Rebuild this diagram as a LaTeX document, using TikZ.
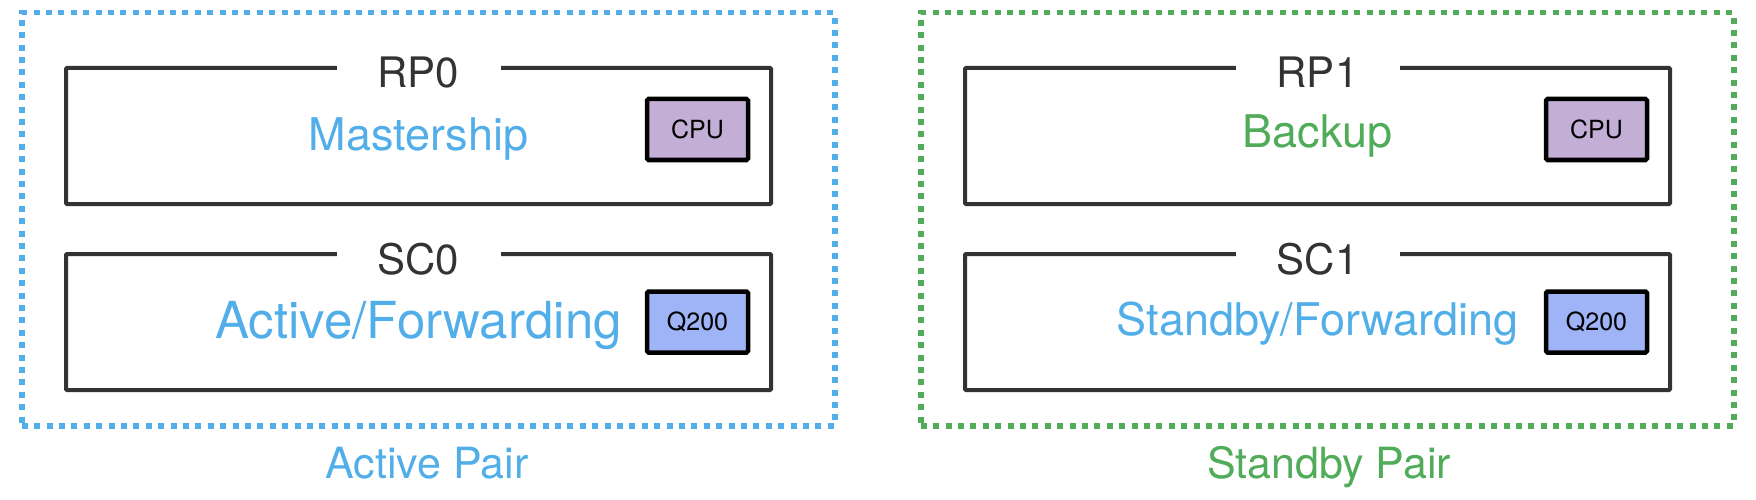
\documentclass[tikz,border=0pt]{standalone}
\usepackage{fontspec}
\setmainfont{TeX Gyre Heros}
\definecolor{actblue}{RGB}{82,174,232}
\definecolor{stbgreen}{RGB}{80,172,88}
\definecolor{edgegray}{RGB}{51,51,51}
\definecolor{cpufill}{RGB}{195,174,214}
\definecolor{qfill}{RGB}{159,179,247}
\begin{document}
\begin{tikzpicture}[x=1pt,y=-1pt,
  pairbox/.style={draw, line width=5.5pt, dash pattern=on 6pt off 6.4pt,
    minimum width=813pt, minimum height=413pt, anchor=north west, inner sep=0pt},
  card/.style={draw=edgegray, line width=4pt, rounded corners=1pt,
    minimum width=705pt, minimum height=136pt, anchor=north west, inner sep=0pt},
  cardtitle/.style={fill=white, text=edgegray, minimum width=164pt, inner sep=0pt,
    anchor=base, font=\fontsize{42}{46}\selectfont},
  rolelabel/.style={anchor=base, inner sep=0pt},
  chip/.style={draw=black, line width=4.5pt, rounded corners=1.5pt,
    minimum width=101pt, minimum height=61pt, inner sep=0pt,
    font=\fontsize{25}{27}\selectfont},
  pairlabel/.style={anchor=base, inner sep=0pt, font=\fontsize{43}{46}\selectfont}]
\useasboundingbox (0,0) rectangle (1756,500);

% pair frames
\node[pairbox, draw=actblue] (activebox) at (19,10) {};
\node[pairbox, draw=stbgreen] (standbybox) at (918,10) {};

% left cards
\node[card] (rp0) at (64,66) {};
\node[card] (sc0) at (64,252) {};
\node[cardtitle] (rp0t) at ([yshift=-22pt]rp0.north) {RP0};
\node[cardtitle] (sc0t) at ([yshift=-22pt]sc0.north) {SC0};
\node[rolelabel, text=actblue, font=\fontsize{45}{48}\selectfont] (rp0r) at ([yshift=-84pt]rp0.north) {Mastership};
\node[rolelabel, text=actblue, font=\fontsize{51}{54}\selectfont] (sc0r) at ([yshift=-86pt]sc0.north) {Active/Forwarding};
\node[chip, fill=cpufill] (cpu0) at (697.5,129.5) {CPU};
\node[chip, fill=qfill] (q0) at (697.5,322) {Q200};

% right cards
\node[card] (rp1) at (963,66) {};
\node[card] (sc1) at (963,252) {};
\node[cardtitle] (rp1t) at ([yshift=-22pt]rp1.north) {RP1};
\node[cardtitle] (sc1t) at ([yshift=-22pt]sc1.north) {SC1};
\node[rolelabel, text=stbgreen, font=\fontsize{45}{48}\selectfont] (rp1r) at ([yshift=-82pt]rp1.north) {Backup};
\node[rolelabel, text=actblue, font=\fontsize{45}{48}\selectfont] (sc1r) at ([yshift=-83pt]sc1.north) {Standby/Forwarding};
\node[chip, fill=cpufill] (cpu1) at (1596.5,129.5) {CPU};
\node[chip, fill=qfill] (q1) at (1596.5,322) {Q200};

% pair labels
\node[pairlabel, text=actblue] (activelbl) at (427,478) {Active Pair};
\node[pairlabel, text=stbgreen] (standbylbl) at (1329,478) {Standby Pair};
\end{tikzpicture}
\end{document}
